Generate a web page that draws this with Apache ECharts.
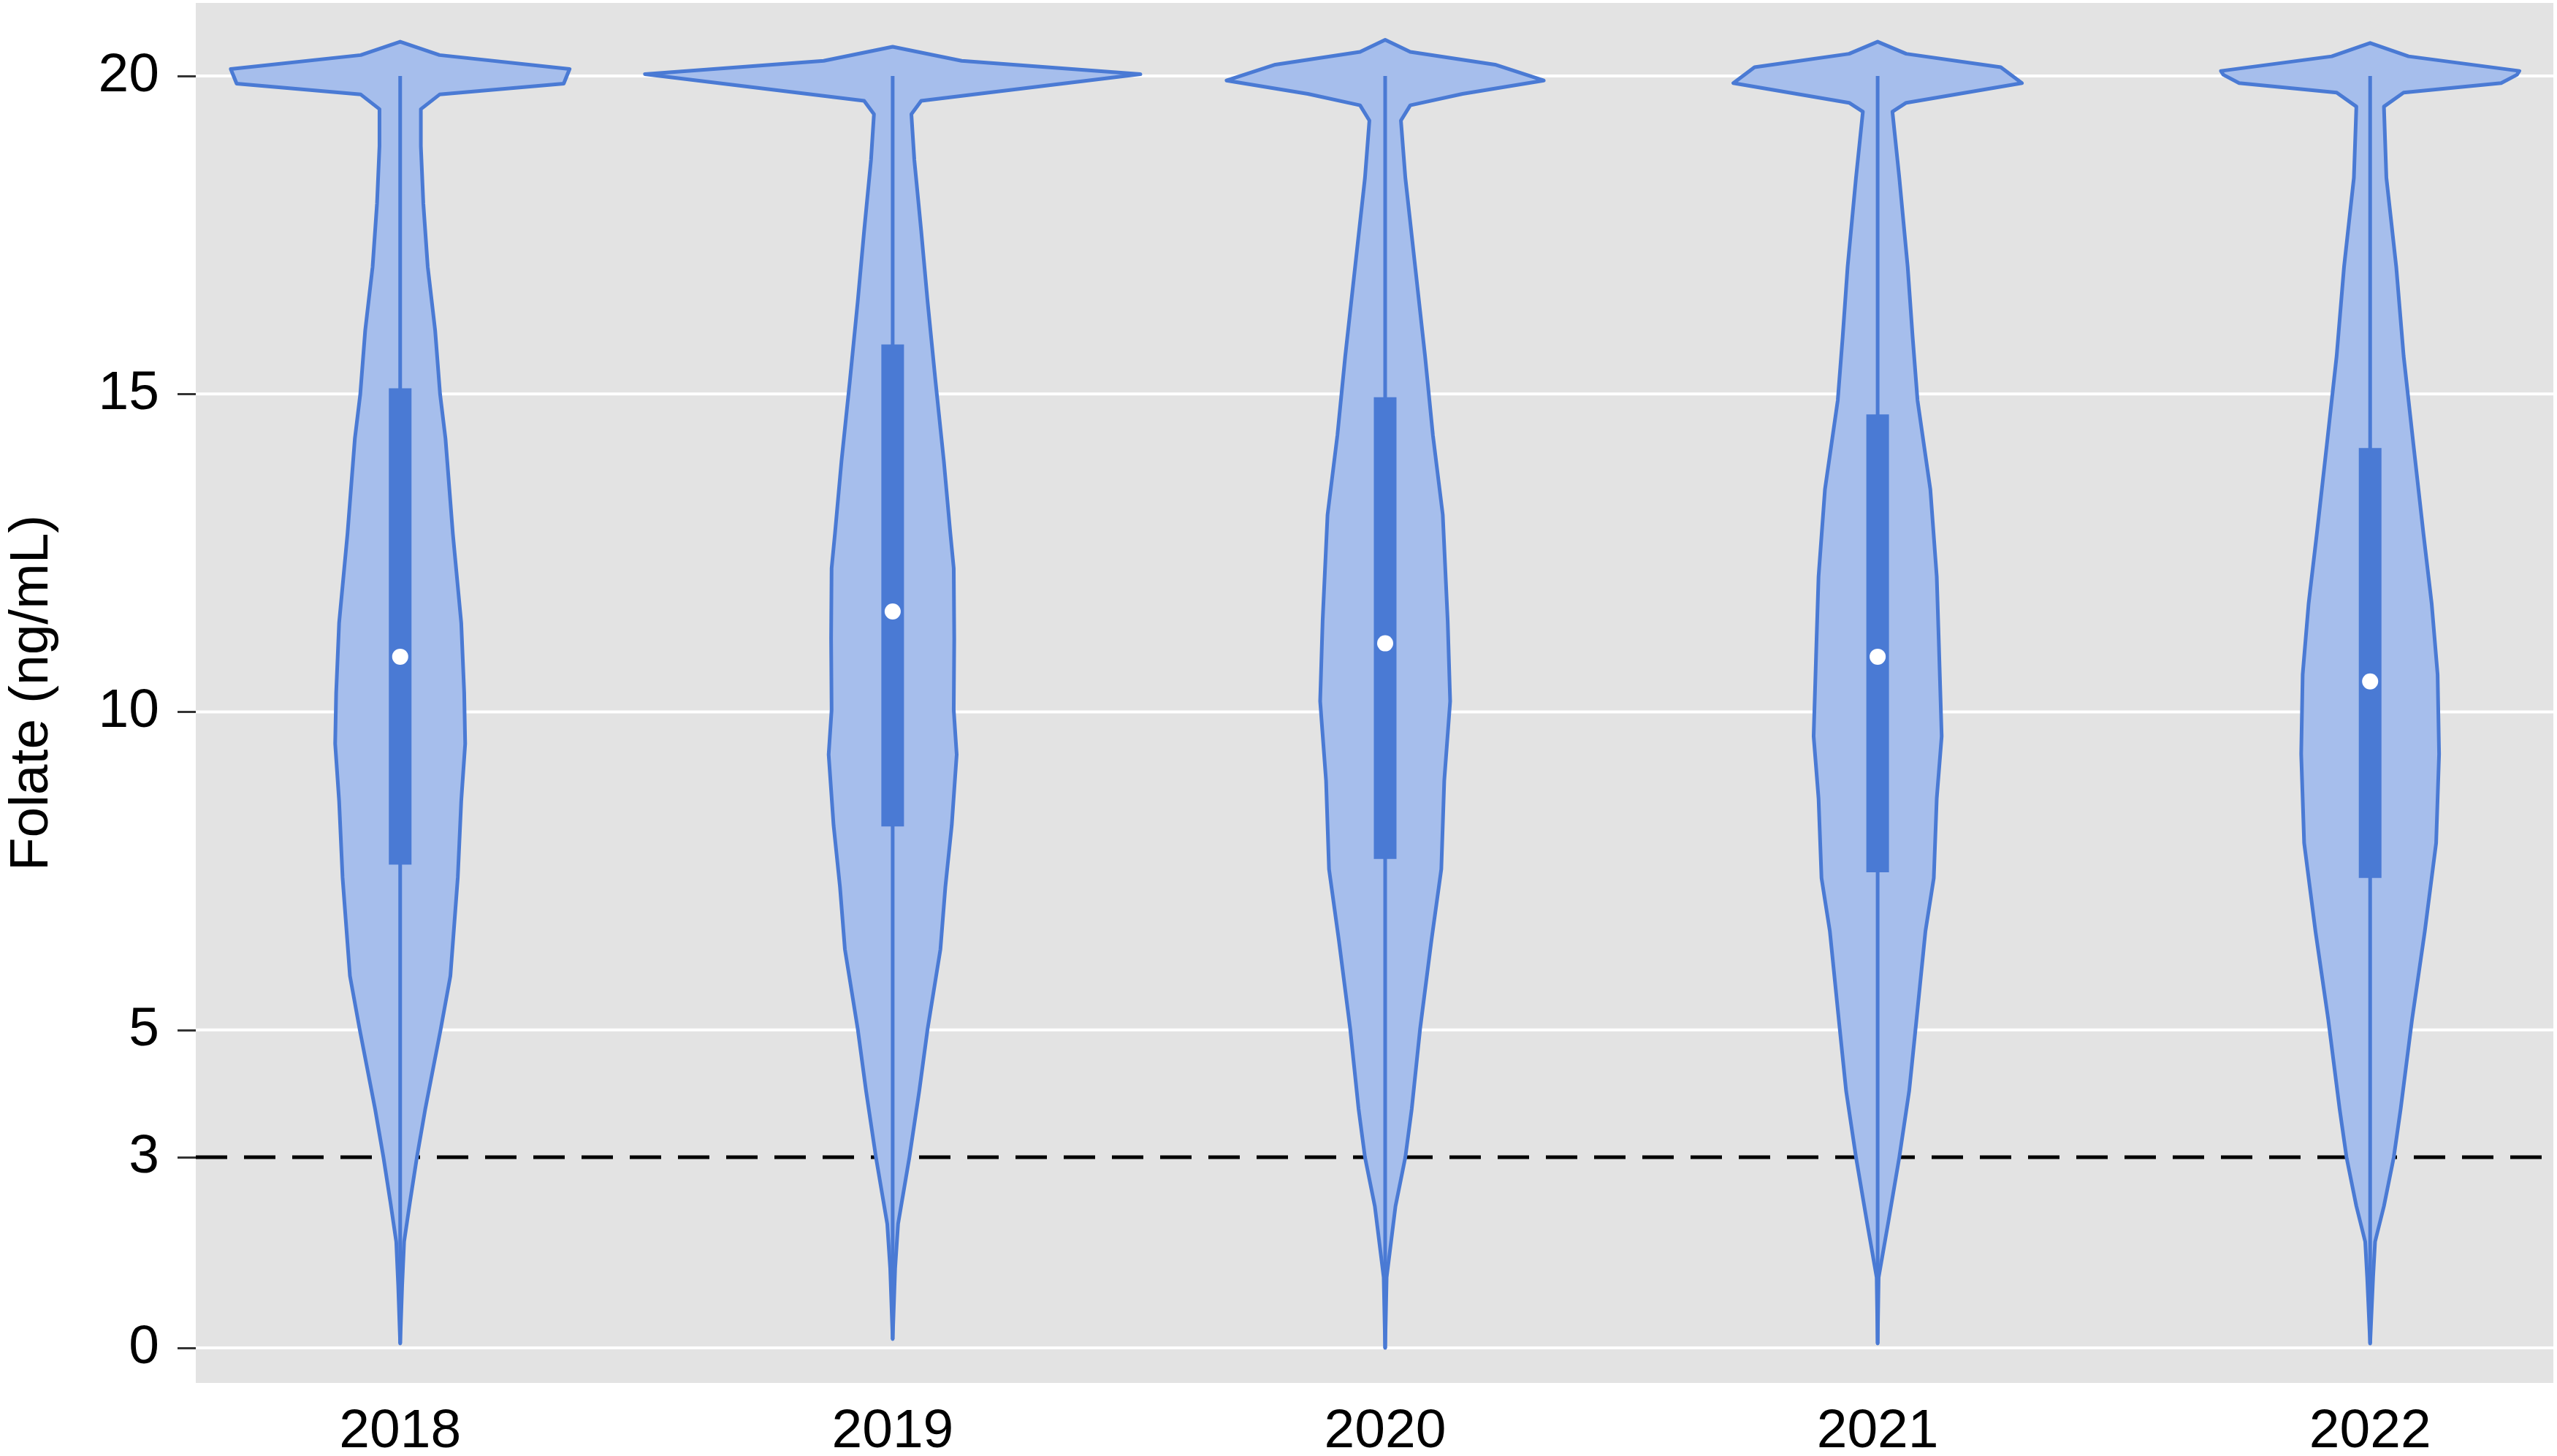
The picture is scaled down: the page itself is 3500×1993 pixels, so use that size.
<!DOCTYPE html>
<html><head><meta charset="utf-8">
<script src="https://cdn.jsdelivr.net/npm/echarts@6/dist/echarts.min.js"></script>
<style>html,body{margin:0;padding:0;background:#fff}#chart{width:3500px;height:1993px}</style>
</head><body><div id="chart"></div>
<script>
// ---- data ----
const years = [2018, 2019, 2020, 2021, 2022];
const yTicks = [0, 3, 5, 10, 15, 20];
const gridValues = [0, 5, 10, 15, 20];
const thresholdValues = [3];

// violin outlines: [folate value, half-width in category units], bottom to top
const violin2018 = [[0.07,0],[0.98,0.004],[1.67,0.008],[2.3,0.02],[3.0,0.034],[3.76,0.051],[5.0,0.082],[5.85,0.102],[7.4,0.117],[8.6,0.124],[9.5,0.132],[10.3,0.130],[11.4,0.124],[12.8,0.107],[14.3,0.092],[15.0,0.081],[16.0,0.071],[17.0,0.056],[18.0,0.047],[18.9,0.042],[19.48,0.042],[19.71,0.080],[19.88,0.332],[20.11,0.344],[20.33,0.080],[20.54,0]];
const violin2019 = [[0.14,0],[1.25,0.005],[1.95,0.011],[3.0,0.034],[4.04,0.054],[5.02,0.071],[6.27,0.097],[7.25,0.107],[8.22,0.120],[9.33,0.130],[10.03,0.124],[11.15,0.125],[12.26,0.124],[12.82,0.117],[13.94,0.104],[15.2,0.087],[16.45,0.071],[17.56,0.058],[18.68,0.044],[19.4,0.038],[19.61,0.058],[20.03,0.503],[20.24,0.140],[20.46,0]];
const violin2020 = [[0.0,0],[1.11,0.003],[2.23,0.021],[3.0,0.041],[3.76,0.054],[5.02,0.071],[6.41,0.094],[7.53,0.114],[8.92,0.120],[10.17,0.132],[11.43,0.127],[13.1,0.117],[14.35,0.097],[15.6,0.081],[17.0,0.061],[18.4,0.041],[19.3,0.032],[19.54,0.051],[19.72,0.157],[19.93,0.322],[20.18,0.223],[20.38,0.051],[20.57,0]];
const violin2021 = [[0.07,0],[1.11,0.002],[1.95,0.021],[3.0,0.044],[4.04,0.064],[5.02,0.077],[6.55,0.097],[7.39,0.114],[8.64,0.120],[9.62,0.130],[11.15,0.124],[12.13,0.120],[13.5,0.107],[14.9,0.081],[15.9,0.071],[17.0,0.061],[18.4,0.044],[19.44,0.030],[19.58,0.058],[19.89,0.293],[20.14,0.250],[20.35,0.058],[20.54,0]];
const violin2022 = [[0.07,0],[1.11,0.006],[1.67,0.010],[2.23,0.028],[3.0,0.048],[3.76,0.062],[5.16,0.085],[6.55,0.111],[7.94,0.134],[9.34,0.140],[10.59,0.137],[11.7,0.125],[12.82,0.108],[14.2,0.088],[15.6,0.068],[17.0,0.053],[18.4,0.033],[19.52,0.028],[19.74,0.068],[19.89,0.266],[20.02,0.298],[20.08,0.303],[20.31,0.078],[20.52,0]];

const q1 = [7.60, 8.20, 7.69, 7.48, 7.39];
const median = [10.87, 11.58, 11.08, 10.87, 10.48];
const q3 = [15.09, 15.78, 14.95, 14.68, 14.15];
const whiskerLow = [0.07, 0.14, 0.0, 0.07, 0.07];
const whiskerHigh = [20, 20, 20, 20, 20];

// ---- chart ----
const profiles = [violin2018, violin2019, violin2020, violin2021, violin2022];
const X_MIN = 2017.585, X_MAX = 2022.372;
const FILL = '#A6BEEC', STROKE = '#4A7AD4';
const FONT = 'Liberation Sans, Helvetica, Arial, sans-serif';

const chart = echarts.init(document.getElementById('chart'), null, {renderer: 'canvas'});

function hLineItem(color, width, dash) {
  return function (params, api) {
    const v = api.value(0);
    const a = api.coord([X_MIN, v]);
    const b = api.coord([X_MAX, v]);
    return {
      type: 'line',
      shape: {x1: a[0], y1: a[1], x2: b[0], y2: b[1]},
      style: {stroke: color, lineWidth: width, lineDash: dash || null, fill: null}
    };
  };
}

chart.setOption({
  animation: false,
  backgroundColor: '#ffffff',
  grid: {left: 268, right: 5, top: 4, bottom: 100, show: true, backgroundColor: '#E3E3E3', borderWidth: 0, outerBoundsMode: 'none', containLabel: false},
  xAxis: {
    type: 'value', min: X_MIN, max: X_MAX,
    axisLine: {show: false}, axisTick: {show: false}, splitLine: {show: false},
    axisLabel: {customValues: years, formatter: v => String(v), fontSize: 75, fontFamily: FONT, color: '#000', margin: 30}
  },
  yAxis: {
    type: 'value', min: -0.55, max: 21.15,
    name: 'Folate (ng/mL)', nameLocation: 'middle', nameRotate: 90, nameGap: 186,
    nameTextStyle: {fontSize: 75, fontFamily: FONT, color: '#000'},
    axisLine: {show: false}, splitLine: {show: false},
    axisTick: {show: true, customValues: yTicks, length: 25, lineStyle: {color: '#333', width: 3}},
    axisLabel: {customValues: yTicks, formatter: v => String(v), fontSize: 75, fontFamily: FONT, color: '#000', margin: 50}
  },
  series: [
    {type: 'custom', z: 1, silent: true, data: gridValues.map(v => [v]), renderItem: hLineItem('#ffffff', 4)},
    {type: 'custom', z: 2, silent: true, data: thresholdValues.map(v => [v]), renderItem: hLineItem('#000000', 5, [43, 23])},
    {
      type: 'custom', z: 3, silent: true,
      data: years.map((y, i) => [y, i]),
      renderItem: function (params, api) {
        const year = api.value(0);
        const i = api.value(1);
        const prof = profiles[i];
        const right = prof.map(p => api.coord([year + p[1], p[0]]));
        const left = prof.slice().reverse().map(p => api.coord([year - p[1], p[0]]));
        const pts = right.concat(left);
        const lo = api.coord([year, whiskerLow[i]]);
        const hi = api.coord([year, whiskerHigh[i]]);
        const bw = 0.023;
        const b1 = api.coord([year - bw, q3[i]]);
        const b2 = api.coord([year + bw, q1[i]]);
        const m = api.coord([year, median[i]]);
        return {
          type: 'group',
          children: [
            {type: 'polygon', shape: {points: pts}, style: {fill: FILL, stroke: STROKE, lineWidth: 5, lineJoin: 'round'}},
            {type: 'line', shape: {x1: lo[0], y1: lo[1], x2: hi[0], y2: hi[1]}, style: {stroke: STROKE, lineWidth: 5}},
            {type: 'rect', shape: {x: b1[0], y: b1[1], width: b2[0] - b1[0], height: b2[1] - b1[1]}, style: {fill: STROKE}},
            {type: 'circle', shape: {cx: m[0], cy: m[1], r: 11}, style: {fill: '#ffffff'}}
          ]
        };
      }
    }
  ]
});
</script>
</body></html>
